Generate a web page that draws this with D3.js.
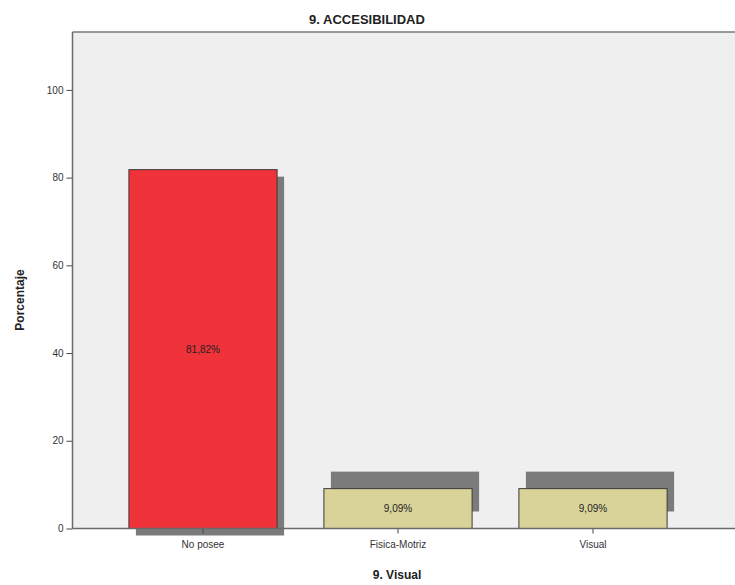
<!DOCTYPE html>
<html><head><meta charset="utf-8">
<script src="https://cdn.jsdelivr.net/npm/d3@7"></script>
<style>body{margin:0;background:#fff}svg{display:block}text{font-family:"Liberation Sans",Arial,sans-serif}</style>
</head><body>
<script>
const categories = ["No posee", "Fisica-Motriz", "Visual"];
const values = [81.82, 9.09, 9.09];
const valueLabels = ["81,82%", "9,09%", "9,09%"];
const yTicks = [0, 20, 40, 60, 80, 100];
const title = "9. ACCESIBILIDAD";
const xTitle = "9. Visual";
const yTitle = "Porcentaje";

const W = 735, H = 585;
const colors = ["#F0323A", "#D9D39A", "#D9D39A"];
const shadowDx = 7, shadowDy = [7, -17, -17];

const svg = d3.select("body").append("svg").attr("width", W).attr("height", H);
const plot = {left: 72.5, top: 32, right: 740, bottom: 528.5};

const y = d3.scaleLinear().domain([0, 113.2]).range([plot.bottom, plot.top]);
const x = d3.scaleBand().domain(categories).range([105.5, 690.5]).paddingInner(0.24).paddingOuter(0.12);

svg.append("rect").attr("x", plot.left).attr("y", plot.top).attr("width", plot.right - plot.left).attr("height", plot.bottom - plot.top).attr("fill", "#EFEFEF");
svg.append("line").attr("x1", plot.left).attr("x2", plot.right).attr("y1", plot.top).attr("y2", plot.top).attr("stroke", "#7a7a7a").attr("stroke-width", 1.5);

const data = categories.map((c, i) => ({c, v: values[i], lab: valueLabels[i], i}));

// shadows
svg.selectAll("rect.sh").data(data).enter().append("rect").attr("class", "sh")
  .attr("x", d => x(d.c) + shadowDx).attr("y", d => y(d.v) + shadowDy[d.i])
  .attr("width", x.bandwidth()).attr("height", d => y(0) - y(d.v))
  .attr("fill", "#7b7b7b");

svg.selectAll("rect.bar").data(data).enter().append("rect").attr("class", "bar")
  .attr("x", d => x(d.c)).attr("y", d => y(d.v))
  .attr("width", x.bandwidth()).attr("height", d => y(0) - y(d.v))
  .attr("fill", (d) => colors[d.i]).attr("stroke", "#3a3a3a").attr("stroke-width", 1);

svg.selectAll("text.vl").data(data).enter().append("text").attr("class", "vl")
  .attr("x", d => x(d.c) + x.bandwidth() / 2).attr("y", d => (y(d.v) + y(0)) / 2 + 3.5)
  .attr("text-anchor", "middle").attr("font-size", 10).attr("fill", "#222").text(d => d.lab);

// axes
const ya = svg.append("g").attr("transform", `translate(${plot.left},0)`)
  .call(d3.axisLeft(y).tickValues(yTicks).tickSize(6).tickSizeOuter(0));
ya.select(".domain").remove();
svg.append("line").attr("x1", plot.left).attr("x2", plot.left).attr("y1", plot.top).attr("y2", plot.bottom).attr("stroke", "#6a6a6a").attr("stroke-width", 1.5);
ya.selectAll("line").attr("stroke", "#444");
ya.selectAll("text").attr("font-size", 10).attr("fill", "#333").attr("font-family", "Liberation Sans, Arial, sans-serif");

const xa = svg.append("g").attr("transform", `translate(0,${plot.bottom})`)
  .call(d3.axisBottom(x).tickSize(5).tickSizeOuter(0));
xa.select(".domain").remove();
svg.append("line").attr("x1", plot.left).attr("x2", plot.right).attr("y1", plot.bottom).attr("y2", plot.bottom).attr("stroke", "#6a6a6a").attr("stroke-width", 1.5);
xa.selectAll("line").attr("stroke", "#444");
xa.selectAll("text").attr("font-size", 10).attr("fill", "#333").attr("dy", "1.1em").attr("font-family", "Liberation Sans, Arial, sans-serif");

svg.append("text").attr("x", 367).attr("y", 24).attr("text-anchor", "middle").attr("font-size", 13).attr("font-weight", "bold").attr("fill", "#222").text(title);
svg.append("text").attr("x", 397).attr("y", 579).attr("text-anchor", "middle").attr("font-size", 12).attr("font-weight", "bold").attr("fill", "#222").text(xTitle);
svg.append("text").attr("transform", "translate(24,300) rotate(-90)").attr("text-anchor", "middle").attr("font-size", 12).attr("font-weight", "bold").attr("fill", "#222").text(yTitle);
</script>
</body></html>
